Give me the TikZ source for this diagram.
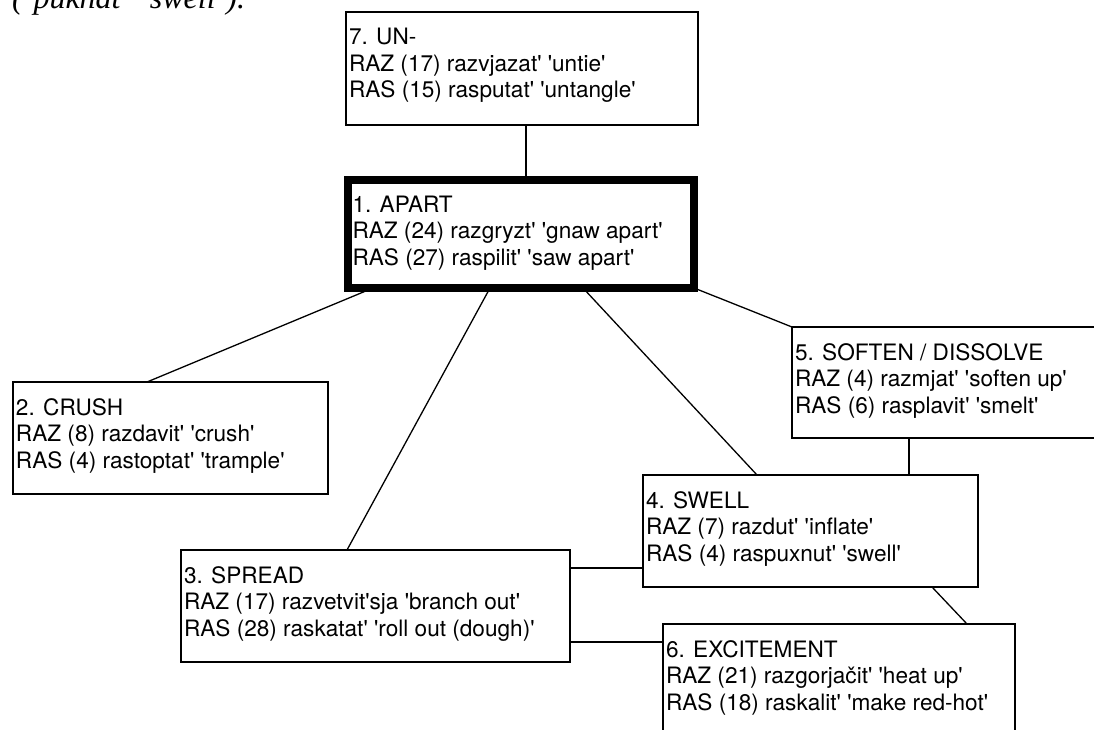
\documentclass[tikz,border=0pt]{standalone}
\usepackage{fontspec}
\newfontfamily\hv{TeX Gyre Heros}[Ligatures=TeXOff]
\newfontfamily\tmi{Liberation Serif}[Ligatures=TeXOff]
\usetikzlibrary{calc}

% text block of a box: fixed height, first baseline 33pt below the top
\newcommand\entry[3]{\parbox[c][#2pt][t]{\dimexpr#1pt-6pt\relax}{\raggedright\rule{0pt}{33pt}#3}}

\begin{document}
\begin{tikzpicture}[x=1pt,y=-1pt,
  box/.style={draw, line width=1.3pt, fill=white, rectangle, anchor=north west,
    inner xsep=3pt, inner ysep=0pt, outer sep=0pt,
    font=\hv\fontsize{22.6}{26.5}\selectfont},
  link/.style={line width=1.3pt}]
\useasboundingbox (0,0) rectangle (1094,730);
\clip (0,0) rectangle (1094,730);

% tail of the running text above the figure
\node[font=\tmi\itshape\fontsize{32}{32}\selectfont, anchor=base west, inner sep=0pt]
  (tail) at (12,9) {(‘pukhat’ ‘swell’).};

\node[box] (n7) at (346,12) {\entry{352}{113}{7. UN-\\RAZ (17) razvjazat' 'untie'\\RAS (15) rasputat' 'untangle'}};
\node[box, line width=8pt, inner xsep=5pt] (n1) at (347.5,180)
  {\parbox[c][108pt][t]{336.5pt}{\raggedright\rule{0pt}{32pt}1. APART\\RAZ (24) razgryzt' 'gnaw apart'\\RAS (27) raspilit' 'saw apart'}};
\node[box] (n2) at (13,382) {\entry{315}{112}{2. CRUSH\\RAZ (8) razdavit' 'crush'\\RAS (4) rastoptat' 'trample'}};
\node[box] (n5) at (792,327) {\entry{330}{111}{5. SOFTEN / DISSOLVE\\RAZ (4) razmjat' 'soften up'\\RAS (6) rasplavit' 'smelt'}};
\node[box] (n4) at (643,475) {\entry{335}{112}{4. SWELL\\RAZ (7) razdut' 'inflate'\\RAS (4) raspuxnut' 'swell'}};
\node[box] (n3) at (181,550) {\entry{389}{112}{3. SPREAD\\RAZ (17) razvetvit'sja 'branch out'\\RAS (28) raskatat' 'roll out (dough)'}};
\node[box] (n6) at (663,624) {\entry{352}{112}{6. EXCITEMENT\\RAZ (21) razgorjačit' 'heat up'\\RAS (18) raskalit' 'make red-hot'}};

\draw[link] (n7.south -| 526,0) -- (n1.north -| 526,0);
\draw[link] (n1.south -| 373,0) -- (n2.north -| 147,0);
\draw[link] (n1.south -| 490,0) -- (n3.north -| 347,0);
\draw[link] (n1.south -| 583,0) -- (n4.north -| 757,0);
\draw[link] (n1.south east) -- (n5.north west);
\draw[link] (n5.south -| 909,0) -- (n4.north -| 909,0);
\draw[link] (n3.east |- 0,568) -- (n4.west |- 0,568);
\draw[link] (n3.east |- 0,642) -- (n6.west |- 0,642);
\draw[link] (n4.south -| 932,0) -- (n6.north -| 967,0);
\end{tikzpicture}
\end{document}
